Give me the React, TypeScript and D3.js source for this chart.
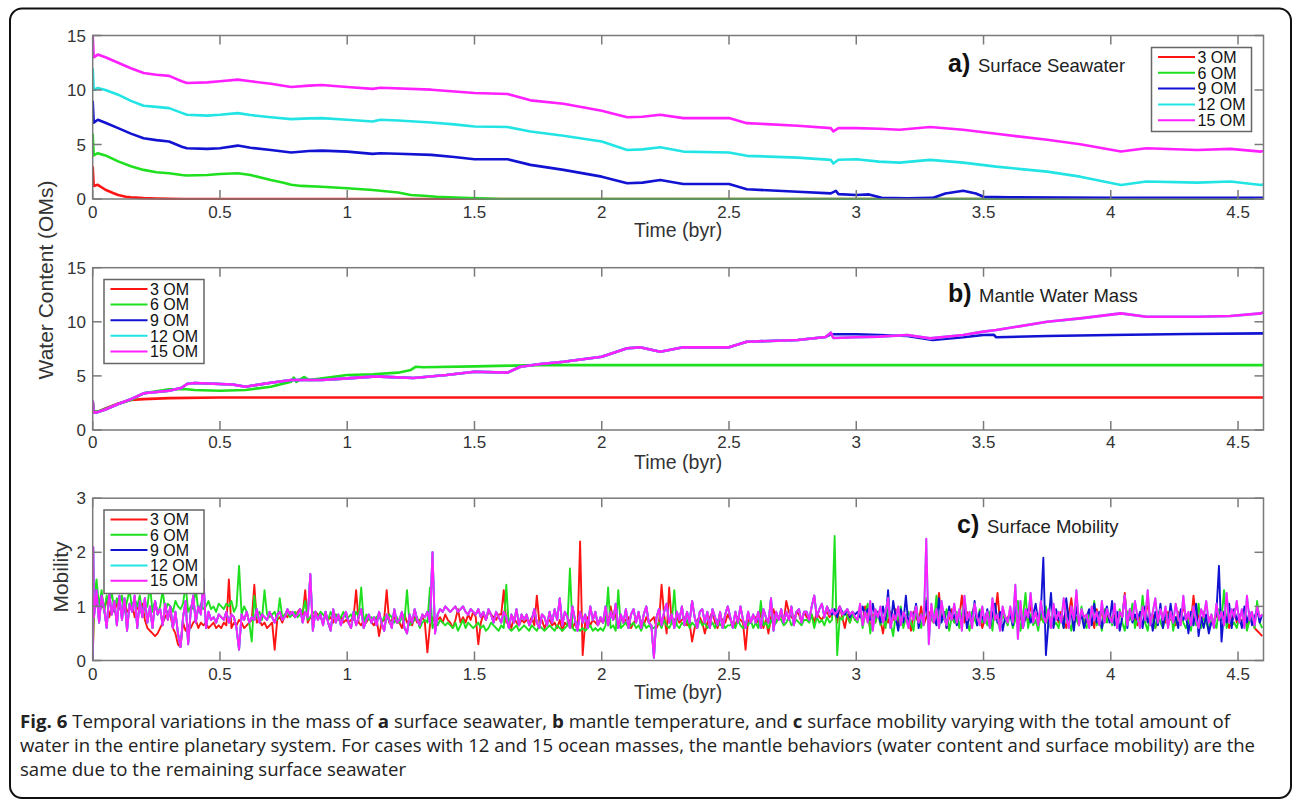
import React from 'react';
import * as d3 from 'd3';

type Pt = [number, number];

// ---- axis ticks and legend ----
const timeTicks = [0, 0.5, 1, 1.5, 2, 2.5, 3, 3.5, 4, 4.5];
const waterTicks = [0, 5, 10, 15];
const mobilityTicks = [0, 1, 2, 3];
const caseLabels = ['3 OM', '6 OM', '9 OM', '12 OM', '15 OM'];
const caseColors = ['#ff1414', '#1fe01f', '#1212d2', '#22e4e4', '#ff1fff'];

// ---- a) surface seawater [time (byr), OMs] ----
const seawater3: Pt[] = [[0, 3.0], [0.004, 1.2], [0.02, 1.3], [0.05, 0.85], [0.08, 0.55], [0.1, 0.37], [0.13, 0.2], [0.15, 0.15], [0.2, 0.08], [0.25, 0.05], [0.3, 0.02], [0.35, 0], [4.6, 0]];
const seawater6: Pt[] = [[0, 6], [0.004, 4.0], [0.02, 4.2], [0.05, 4.0], [0.1, 3.45], [0.15, 3.0], [0.2, 2.67], [0.25, 2.45], [0.3, 2.36], [0.35, 2.2], [0.37, 2.15], [0.45, 2.2], [0.5, 2.3], [0.57, 2.36], [0.62, 2.2], [0.7, 1.75], [0.75, 1.5], [0.78, 1.3], [0.82, 1.2], [0.9, 1.13], [1.0, 0.98], [1.1, 0.83], [1.2, 0.6], [1.25, 0.37], [1.3, 0.3], [1.35, 0.2], [1.45, 0.1], [1.55, 0.03], [1.6, 0], [4.6, 0]];
const seawater9: Pt[] = [[0, 9], [0.004, 7.0], [0.02, 7.27], [0.05, 7.0], [0.1, 6.5], [0.15, 6.0], [0.2, 5.58], [0.25, 5.4], [0.3, 5.27], [0.35, 4.8], [0.37, 4.66], [0.45, 4.6], [0.5, 4.66], [0.57, 4.9], [0.62, 4.7], [0.7, 4.5], [0.78, 4.26], [0.85, 4.4], [0.9, 4.44], [1.0, 4.35], [1.1, 4.14], [1.13, 4.2], [1.2, 4.15], [1.33, 4.05], [1.42, 3.85], [1.5, 3.65], [1.63, 3.65], [1.72, 3.13], [1.85, 2.67], [2.0, 2.05], [2.1, 1.44], [2.16, 1.5], [2.23, 1.75], [2.32, 1.38], [2.5, 1.38], [2.57, 0.89], [2.77, 0.67], [2.9, 0.52], [2.92, 0.75], [2.93, 0.45], [3.0, 0.37], [3.05, 0.42], [3.1, 0.12], [3.2, 0.06], [3.3, 0.1], [3.35, 0.5], [3.42, 0.76], [3.47, 0.5], [3.5, 0.2], [3.6, 0.15], [4.0, 0.12], [4.6, 0.1]];
const seawater12: Pt[] = [[0, 12], [0.004, 10.0], [0.02, 10.18], [0.05, 10.0], [0.1, 9.57], [0.15, 9.0], [0.2, 8.56], [0.25, 8.45], [0.3, 8.34], [0.35, 7.9], [0.37, 7.73], [0.45, 7.65], [0.5, 7.73], [0.57, 7.88], [0.62, 7.7], [0.7, 7.5], [0.78, 7.33], [0.85, 7.4], [0.9, 7.42], [1.0, 7.27], [1.1, 7.11], [1.13, 7.27], [1.2, 7.2], [1.33, 7.02], [1.42, 6.85], [1.5, 6.65], [1.63, 6.6], [1.72, 6.19], [1.85, 5.8], [2.0, 5.27], [2.1, 4.5], [2.16, 4.55], [2.23, 4.75], [2.32, 4.35], [2.5, 4.26], [2.57, 3.96], [2.77, 3.8], [2.9, 3.59], [2.91, 3.25], [2.93, 3.6], [3.0, 3.65], [3.09, 3.43], [3.17, 3.34], [3.29, 3.59], [3.42, 3.34], [3.55, 2.97], [3.75, 2.51], [3.88, 2.05], [4.04, 1.29], [4.14, 1.6], [4.34, 1.5], [4.47, 1.6], [4.59, 1.29], [4.6, 1.35]];
const seawater15: Pt[] = [[0, 15], [0.004, 13.0], [0.02, 13.25], [0.05, 13.0], [0.1, 12.5], [0.15, 12.0], [0.2, 11.56], [0.25, 11.4], [0.3, 11.3], [0.35, 10.8], [0.37, 10.64], [0.45, 10.7], [0.5, 10.8], [0.57, 10.95], [0.62, 10.8], [0.7, 10.58], [0.78, 10.27], [0.85, 10.4], [0.9, 10.46], [1.0, 10.27], [1.1, 10.1], [1.13, 10.2], [1.33, 10.03], [1.5, 9.72], [1.63, 9.63], [1.72, 9.05], [1.85, 8.74], [2.0, 8.1], [2.1, 7.5], [2.16, 7.55], [2.23, 7.73], [2.32, 7.42], [2.5, 7.42], [2.57, 6.96], [2.77, 6.72], [2.9, 6.5], [2.91, 6.2], [2.93, 6.5], [3.0, 6.5], [3.09, 6.44], [3.17, 6.35], [3.29, 6.6], [3.42, 6.35], [3.55, 5.98], [3.75, 5.43], [3.88, 5.03], [4.04, 4.35], [4.14, 4.66], [4.34, 4.5], [4.47, 4.6], [4.59, 4.35], [4.6, 4.4]];

// ---- b) mantle water mass [time (byr), OMs] ----
const mantle3: Pt[] = [[0, 2.7], [0.003, 1.7], [0.02, 1.7], [0.05, 2.0], [0.1, 2.46], [0.15, 2.77], [0.2, 2.85], [0.3, 2.95], [0.5, 3.0], [4.6, 3.0]];
const mantle6: Pt[] = [[0, 2.7], [0.003, 1.7], [0.02, 1.7], [0.05, 1.95], [0.1, 2.4], [0.15, 2.77], [0.2, 3.39], [0.3, 3.76], [0.37, 3.76], [0.4, 3.7], [0.5, 3.63], [0.6, 3.7], [0.7, 4.0], [0.78, 4.47], [0.79, 4.85], [0.8, 4.45], [0.83, 4.9], [0.85, 4.62], [1.0, 5.08], [1.1, 5.15], [1.2, 5.3], [1.25, 5.55], [1.27, 5.85], [1.3, 5.8], [1.5, 5.88], [1.65, 5.95], [1.75, 6.0], [4.6, 6.0]];
const mantle15: Pt[] = [[0, 2.7], [0.003, 1.6], [0.02, 1.65], [0.05, 1.9], [0.1, 2.4], [0.15, 2.85], [0.2, 3.39], [0.3, 3.63], [0.35, 3.9], [0.37, 4.25], [0.4, 4.35], [0.5, 4.25], [0.55, 4.2], [0.6, 4.0], [0.7, 4.37], [0.78, 4.62], [0.9, 4.62], [1.0, 4.77], [1.1, 4.93], [1.13, 4.93], [1.26, 4.8], [1.39, 5.08], [1.5, 5.39], [1.63, 5.3], [1.68, 5.85], [1.76, 6.1], [1.85, 6.31], [2.0, 6.77], [2.1, 7.55], [2.15, 7.64], [2.23, 7.24], [2.32, 7.64], [2.5, 7.64], [2.57, 8.16], [2.77, 8.32], [2.88, 8.6], [2.9, 9.0], [2.91, 8.5], [3.0, 8.57], [3.09, 8.63], [3.2, 8.78], [3.29, 8.47], [3.42, 8.78], [3.5, 9.09], [3.55, 9.24], [3.75, 10.0], [3.88, 10.32], [4.04, 10.78], [4.14, 10.47], [4.34, 10.47], [4.47, 10.54], [4.59, 10.78], [4.6, 10.9]];
// 12 OM follows the 15 OM mantle path; 9 OM shares it until it splits off near 2.9 byr
const mantle12: Pt[] = mantle15;
const mantle9Tail: Pt[] = [[2.9, 8.85], [3.0, 8.85], [3.09, 8.78], [3.2, 8.69], [3.3, 8.32], [3.42, 8.57], [3.5, 8.78], [3.54, 8.8], [3.55, 8.57], [3.75, 8.69], [4.0, 8.78], [4.3, 8.87], [4.6, 8.93]];
const mantle9: Pt[] = [...mantle15.filter(d => d[0] <= 2.88), ...mantle9Tail];

// ---- c) surface mobility, sampled every MOB_DT byr from MOB_T0 (one row = 0.1 byr) ----
const MOB_T0 = 0.005;
const MOB_DT = 0.01;
const mobility3 = [
  0.9, 1.1, 0.85, 1.05, 0.95, 1.15, 0.8, 1.0, 0.9, 1.05,
  1.0, 0.85, 1.1, 0.9, 0.95, 1.05, 0.8, 1.0, 0.9, 1.05,
  0.75, 0.6, 0.55, 0.5, 0.45, 0.5, 0.6, 0.7, 0.8, 0.9,
  0.85, 0.6, 0.5, 0.3, 0.25, 0.7, 0.55, 0.65, 0.6, 0.7,
  0.75, 0.6, 0.7, 0.65, 0.7, 0.6, 0.65, 0.7, 0.6, 0.65,
  0.6, 0.7, 0.65, 1.5, 0.6, 0.7, 0.65, 0.75, 0.7, 0.6,
  0.65, 0.7, 0.75, 1.4, 0.7, 0.75, 0.65, 0.7, 0.6, 0.65,
  0.7, 0.2, 0.75, 0.8, 0.7, 0.85, 0.8, 0.9, 0.85, 0.8,
  0.9, 0.95, 0.85, 1.3, 0.7, 0.8, 0.75, 0.9, 0.85, 0.8,
  0.7, 0.85, 0.75, 0.8, 0.7, 0.85, 0.75, 0.8, 0.7, 0.75,
  0.7, 0.75, 0.8, 1.3, 0.7, 0.65, 0.75, 0.7, 0.8, 0.7,
  0.65, 0.8, 0.45, 0.7, 0.75, 1.3, 0.7, 0.75, 0.8, 0.7,
  0.7, 0.6, 0.85, 0.7, 0.75, 0.65, 0.8, 0.7, 0.75, 0.8,
  0.7, 0.15, 0.65, 0.8, 0.7, 0.75, 0.8, 0.7, 0.85, 0.75,
  0.7, 0.6, 0.75, 0.95, 0.7, 0.8, 0.7, 0.85, 0.75, 0.9,
  0.8, 0.3, 0.7, 0.85, 0.75, 0.9, 0.85, 0.8, 0.75, 0.85,
  0.85, 1.3, 0.7, 0.75, 0.6, 0.8, 0.7, 0.65, 0.75, 0.7,
  0.75, 0.7, 0.8, 0.65, 1.2, 0.7, 0.75, 0.6, 0.7, 0.75,
  0.65, 0.7, 0.6, 0.75, 0.55, 0.7, 0.65, 0.75, 0.6, 0.7,
  0.55, 2.2, 0.1, 0.7, 0.8, 0.65, 0.75, 0.7, 0.65, 0.75,
  0.7, 0.8, 0.65, 1.0, 0.75, 0.85, 0.6, 0.8, 0.7, 0.75,
  0.8, 0.6, 0.7, 0.75, 0.85, 0.7, 0.65, 0.8, 0.7, 0.75,
  0.8, 0.6, 0.7, 1.4, 0.85, 0.5, 1.35, 0.7, 0.75, 0.8,
  0.7, 0.75, 0.8, 0.65, 0.7, 0.35, 0.6, 0.75, 0.8, 0.7,
  0.5, 0.7, 0.8, 0.9, 0.7, 0.6, 0.8, 0.75, 0.7, 0.85,
  0.75, 0.7, 0.65, 0.8, 0.75, 0.7, 0.2, 0.75, 0.7, 0.8,
  0.8, 0.7, 0.9, 0.6, 0.75, 0.5, 0.8, 0.95, 0.7, 0.8,
  0.85, 0.7, 1.1, 0.9, 0.8, 0.75, 0.9, 0.85, 0.7, 0.9,
  0.8, 0.75, 0.85, 0.7, 0.9, 0.8, 0.75, 0.85, 0.9, 0.8,
  0.85, 0.9, 0.7, 1.0, 0.8, 0.6, 0.85, 0.7, 0.9, 0.75,
  0.8, 0.9, 0.7, 1.0, 0.8, 0.6, 0.85, 0.7, 0.9, 0.75,
  0.5, 0.8, 0.7, 0.9, 0.75, 0.95, 0.6, 0.85, 0.7, 0.8,
  0.75, 0.55, 0.9, 0.8, 0.7, 1.0, 0.65, 0.8, 0.9, 0.75,
  0.7, 0.85, 1.25, 0.75, 0.9, 0.6, 0.8, 0.95, 0.7, 0.85,
  0.8, 1.2, 0.7, 0.9, 0.75, 0.8, 1.05, 0.7, 0.85, 0.6,
  0.75, 0.9, 0.7, 0.85, 0.8, 1.25, 0.7, 0.9, 0.75, 0.8,
  0.85, 0.7, 0.9, 0.75, 0.8, 0.65, 0.9, 0.7, 1.05, 0.75,
  0.7, 0.85, 0.75, 0.9, 0.7, 0.8, 0.6, 0.75, 0.85, 0.7,
  0.9, 0.75, 0.6, 0.85, 1.15, 0.7, 0.8, 0.65, 0.9, 0.75,
  0.7, 0.85, 0.8, 0.6, 0.95, 0.75, 0.9, 0.7, 0.8, 0.85,
  0.75, 0.9, 0.7, 0.85, 0.8, 1.25, 0.7, 0.9, 0.75, 0.8,
  0.65, 0.8, 0.9, 0.7, 1.1, 0.75, 0.85, 0.6, 0.8, 0.9,
  0.85, 0.7, 0.9, 0.75, 0.8, 0.65, 0.9, 0.7, 1.05, 0.75,
  0.8, 0.7, 1.2, 0.75, 0.85, 0.65, 0.9, 0.75, 0.8, 0.7,
  0.7, 0.85, 0.75, 0.9, 0.7, 0.8, 0.6, 0.75, 0.95, 0.7,
  0.8, 0.7, 0.9, 0.6, 0.75, 0.85, 0.6, 0.55, 0.5, 0.45,
];
const mobility6 = [
  1.1, 1.5, 1.0, 1.3, 0.9, 1.2, 1.05, 1.25, 0.95, 1.15,
  1.0, 1.2, 0.9, 1.1, 1.3, 0.95, 1.15, 1.0, 1.2, 0.9,
  0.95, 1.0, 1.4, 0.9, 1.1, 0.85, 1.0, 1.3, 0.9, 1.05,
  1.0, 0.9, 1.1, 1.0, 0.95, 1.05, 1.4, 0.9, 1.0, 0.95,
  1.35, 0.9, 1.05, 0.95, 1.0, 1.1, 0.95, 1.0, 0.9, 1.05,
  1.0, 0.95, 1.05, 1.0, 1.1, 0.9, 1.0, 1.75, 0.85, 1.0,
  0.9, 0.7, 0.35, 1.2, 0.8, 0.9, 0.75, 1.3, 0.85, 0.8,
  0.85, 0.9, 0.75, 1.15, 0.8, 0.85, 0.9, 0.8, 0.85, 0.9,
  0.8, 0.85, 0.9, 1.1, 0.75, 0.8, 0.9, 0.85, 0.8, 0.9,
  0.85, 0.8, 0.75, 0.9, 0.8, 0.85, 0.75, 0.8, 0.9, 0.8,
  0.8, 0.85, 0.75, 0.9, 0.8, 1.35, 0.7, 0.85, 0.75, 0.8,
  0.75, 0.8, 0.85, 0.7, 0.8, 0.75, 0.85, 0.8, 0.7, 0.8,
  0.7, 0.8, 0.75, 1.3, 0.65, 0.7, 0.75, 0.8, 0.6, 0.7,
  0.75, 0.7, 1.35, 0.6, 0.7, 0.65, 0.75, 0.7, 0.65, 0.7,
  0.65, 0.6, 0.7, 0.55, 0.65, 0.75, 0.6, 0.7, 0.65, 0.6,
  0.65, 0.7, 0.6, 0.65, 0.55, 0.6, 0.7, 0.65, 0.6, 0.55,
  0.65, 0.6, 1.4, 0.6, 0.55, 0.6, 0.65, 0.55, 0.6, 0.65,
  0.6, 0.55, 0.65, 0.6, 0.55, 0.65, 0.6, 0.55, 0.6, 0.65,
  0.6, 0.55, 0.65, 0.6, 0.55, 0.6, 0.65, 1.7, 0.6, 0.55,
  0.6, 0.55, 0.6, 0.55, 0.6, 0.65, 0.55, 0.6, 0.55, 0.6,
  0.55, 0.65, 1.35, 0.6, 0.65, 0.55, 1.3, 0.6, 0.65, 0.7,
  0.6, 0.65, 0.7, 0.6, 0.65, 0.55, 0.7, 0.6, 0.65, 0.6,
  0.6, 0.65, 0.7, 0.6, 0.75, 0.65, 0.6, 0.7, 1.3, 0.65,
  0.6, 0.7, 0.65, 0.75, 0.6, 0.7, 0.65, 0.6, 0.75, 0.65,
  0.7, 0.6, 0.65, 0.7, 0.6, 0.75, 0.65, 0.7, 0.6, 0.65,
  0.65, 0.7, 0.6, 0.75, 0.65, 0.6, 0.7, 0.65, 0.75, 0.6,
  0.7, 0.6, 1.1, 0.65, 0.7, 0.6, 0.75, 0.65, 0.7, 0.8,
  0.75, 0.65, 0.7, 0.8, 0.65, 0.7, 0.75, 0.7, 0.65, 0.75,
  0.75, 0.7, 0.85, 0.6, 0.8, 0.7, 0.75, 0.65, 0.8, 0.7,
  0.75, 2.3, 0.1, 0.8, 0.75, 0.9, 0.8, 0.7, 0.85, 0.75,
  0.7, 0.95, 0.6, 0.85, 1.05, 0.5, 0.8, 0.7, 0.9, 0.65,
  0.8, 0.6, 0.95, 0.7, 0.45, 0.85, 0.75, 1.0, 0.6, 0.8,
  0.9, 0.7, 0.55, 1.0, 0.75, 0.6, 0.9, 1.15, 0.65, 0.8,
  0.7, 1.2, 0.6, 0.85, 0.75, 0.95, 0.55, 0.8, 0.7, 0.9,
  0.6, 0.85, 1.1, 0.7, 0.55, 0.9, 0.75, 0.65, 0.95, 0.7,
  0.8, 0.65, 0.9, 0.55, 1.05, 0.7, 0.6, 0.85, 0.75, 0.65,
  0.9, 0.6, 0.75, 1.1, 0.55, 0.8, 1.25, 0.6, 0.85, 0.65,
  0.75, 0.55, 0.9, 0.7, 1.0, 0.6, 0.8, 0.65, 0.7, 0.6,
  0.85, 0.6, 1.05, 0.7, 0.55, 0.9, 0.75, 0.65, 1.0, 0.7,
  0.6, 0.9, 0.75, 1.1, 0.65, 0.8, 0.55, 0.95, 0.7, 0.85,
  0.65, 0.8, 0.6, 0.95, 0.7, 0.55, 0.9, 0.75, 1.05, 0.6,
  0.8, 0.65, 1.2, 0.7, 0.55, 0.85, 0.75, 0.6, 0.9, 0.7,
  0.6, 0.85, 0.7, 1.0, 0.55, 0.8, 0.65, 0.9, 0.7, 0.6,
  0.75, 0.55, 0.9, 0.65, 1.05, 0.6, 0.8, 0.7, 0.55, 0.85,
  0.7, 0.6, 0.95, 0.75, 1.3, 0.6, 0.8, 0.65, 0.7, 0.6,
  0.8, 0.65, 0.9, 0.55, 0.75, 0.85, 0.6, 1.1, 0.7, 0.6,
];
const mobility15 = [
  0.8, 1.3, 0.7, 1.2, 0.95, 0.6, 1.25, 0.85, 1.1, 0.65,
  1.2, 0.75, 1.15, 0.55, 1.05, 0.9, 1.2, 0.6, 1.1, 0.8,
  1.15, 0.7, 1.0, 0.6, 1.1, 0.85, 0.95, 0.65, 1.05, 0.75,
  1.0, 0.6, 0.9, 0.5, 0.25, 0.8, 1.1, 0.3, 0.9, 1.2,
  0.7, 1.0, 0.85, 1.5, 0.6, 0.9, 0.75, 0.8, 0.7, 0.85,
  0.8, 0.75, 0.9, 0.7, 0.85, 0.8, 0.6, 0.2, 0.85, 0.75,
  0.9, 0.7, 0.8, 0.75, 0.95, 0.7, 0.85, 0.8, 0.75, 0.9,
  0.8, 0.7, 0.85, 0.9, 0.75, 0.8, 0.95, 0.85, 0.9, 0.8,
  0.85, 0.95, 0.7, 0.9, 0.8, 1.6, 0.55, 0.9, 0.75, 0.85,
  0.65, 0.9, 0.7, 0.55, 0.95, 0.7, 0.85, 0.65, 0.8, 0.9,
  0.7, 0.6, 0.9, 0.65, 0.8, 0.95, 0.6, 0.75, 0.85, 0.7,
  0.8, 0.65, 0.9, 0.7, 0.55, 0.85, 0.75, 0.6, 0.95, 0.7,
  0.75, 0.9, 0.6, 0.5, 0.85, 0.7, 0.95, 0.75, 0.65, 0.85,
  0.8, 0.9, 0.7, 2.0, 0.5, 0.85, 0.95, 0.9, 1.0, 0.95,
  0.9, 0.95, 1.0, 0.9, 0.95, 1.0, 0.9, 0.85, 0.95, 0.9,
  0.85, 0.95, 0.8, 0.9, 0.75, 0.95, 0.85, 0.7, 0.9, 0.8,
  0.7, 0.9, 0.8, 0.6, 0.85, 0.7, 0.95, 0.65, 0.85, 0.75,
  0.85, 0.65, 0.75, 0.95, 0.7, 0.6, 0.85, 0.8, 0.65, 0.9,
  0.7, 0.95, 0.75, 1.15, 0.65, 0.9, 0.8, 0.6, 1.0, 0.75,
  0.55, 0.9, 0.7, 0.85, 0.6, 1.0, 0.75, 0.9, 0.65, 0.8,
  0.7, 1.0, 0.65, 0.9, 0.75, 1.05, 0.6, 0.85, 0.7, 0.95,
  0.6, 0.85, 0.95, 0.7, 0.9, 0.6, 0.85, 1.0, 0.7, 0.65,
  0.05, 0.8, 0.95, 0.65, 0.9, 1.05, 0.7, 0.85, 0.6, 0.9,
  0.75, 1.0, 0.65, 0.9, 0.7, 1.1, 0.8, 0.6, 0.9, 0.95,
  0.7, 0.9, 0.6, 0.95, 0.8, 0.65, 0.9, 0.6, 0.85, 1.0,
  0.8, 0.6, 0.9, 0.7, 1.0, 0.75, 0.6, 0.9, 0.7, 0.85,
  0.7, 0.9, 0.6, 0.95, 0.8, 0.7, 1.15, 0.55, 0.9, 0.75,
  0.95, 0.7, 0.9, 0.75, 1.0, 0.65, 0.9, 0.95, 0.7, 0.9,
  0.9, 0.75, 1.0, 1.2, 0.8, 0.95, 1.05, 0.8, 1.0, 0.85,
  0.95, 0.85, 0.9, 1.0, 0.85, 0.9, 0.95, 0.85, 0.9, 0.8,
  0.75, 1.05, 0.65, 0.9, 0.7, 1.1, 0.55, 0.95, 0.8, 1.0,
  0.7, 0.9, 1.15, 0.6, 0.85, 0.75, 1.0, 0.65, 0.9, 0.8,
  0.6, 0.9, 0.75, 1.0, 0.7, 0.85, 0.65, 2.25, 0.3, 1.05,
  0.7, 0.95, 0.6, 1.1, 0.8, 0.65, 0.9, 0.75, 1.05, 0.7,
  0.95, 0.55, 1.2, 0.75, 0.9, 0.6, 1.05, 0.8, 0.65, 1.0,
  0.7, 0.9, 0.6, 1.15, 0.75, 0.85, 0.55, 1.0, 0.8, 0.7,
  1.0, 0.7, 1.4, 0.4, 1.1, 0.6, 0.95, 0.8, 1.25, 0.7,
  0.9, 0.65, 1.1, 0.8, 0.7, 0.95, 0.6, 1.05, 0.75, 0.9,
  0.7, 1.15, 0.8, 0.6, 1.0, 0.75, 1.3, 0.65, 0.95, 0.8,
  0.85, 0.6, 1.0, 0.75, 0.9, 0.65, 1.1, 0.7, 0.95, 0.8,
  0.7, 1.05, 0.6, 0.9, 0.8, 1.2, 0.65, 0.95, 0.75, 1.1,
  0.8, 0.6, 1.0, 0.75, 1.3, 0.65, 0.9, 1.15, 0.7, 0.95,
  0.75, 1.0, 0.6, 0.9, 0.7, 1.05, 0.8, 0.65, 1.2, 0.75,
  0.9, 0.65, 1.0, 0.75, 0.6, 0.95, 0.8, 1.1, 0.7, 0.85,
  0.6, 1.05, 0.75, 0.9, 0.65, 1.25, 0.7, 0.95, 0.8, 1.1,
  0.7, 0.95, 0.6, 1.2, 0.75, 0.9, 0.65, 1.0, 0.8, 0.85,
];
// 9 OM leaves the 15 OM track at sample 289 (t = 2.895 byr)
const MOB9_SPLIT = 289;
const mobility9Tail = [
  0.9,
  0.85, 0.95, 0.8, 1.0, 0.9, 0.85, 0.95, 0.8, 0.9, 0.85,
  0.9, 0.8, 1.0, 0.85, 0.95, 0.75, 1.05, 0.8, 0.9, 0.7,
  1.0, 0.75, 1.3, 0.6, 1.1, 0.8, 0.55, 0.95, 0.7, 1.2,
  0.65, 0.9, 0.8, 1.05, 0.6, 0.85, 0.75, 1.1, 0.55, 0.9,
  0.8, 0.65, 1.15, 0.7, 0.9, 0.6, 1.0, 0.75, 0.85, 0.65,
  0.9, 0.7, 1.0, 0.6, 0.85, 0.75, 1.1, 0.65, 0.9, 0.8,
  0.7, 0.95, 0.6, 0.85, 1.05, 0.7, 0.9, 0.55, 0.8, 0.75,
  0.85, 0.65, 1.0, 0.75, 0.9, 0.6, 0.8, 0.95, 0.7, 0.85,
  1.05, 0.7, 0.9, 1.9, 0.1, 0.7, 1.25, 0.6, 0.95, 0.75,
  0.85, 0.6, 1.15, 0.75, 0.9, 0.55, 1.0, 0.7, 0.85, 0.6,
  0.8, 0.95, 0.65, 1.05, 0.7, 0.9, 0.6, 0.85, 1.0, 0.7,
  1.1, 0.65, 0.9, 0.55, 0.8, 1.2, 0.6, 0.95, 0.7, 0.85,
  0.75, 0.9, 0.6, 1.0, 0.7, 0.85, 0.55, 0.9, 0.65, 1.05,
  0.6, 0.9, 0.65, 1.05, 0.7, 0.8, 0.6, 0.95, 0.75, 0.85,
  0.5, 0.9, 0.65, 1.05, 0.45, 0.8, 0.6, 0.85, 0.5, 0.7,
  0.65, 0.9, 1.75, 0.35, 0.9, 0.7, 1.05, 0.6, 0.95, 0.75,
  0.85, 0.6, 1.0, 0.7, 0.9, 0.65, 0.8, 0.95, 0.7, 0.85,
];
const mobility9 = [...mobility15.slice(0, MOB9_SPLIT), ...mobility9Tail];
const mobility12 = mobility15;

const sampled = (vals: number[], start: Pt[]): Pt[] =>
  [...start, ...vals.map((v, i) => [MOB_T0 + i * MOB_DT, v] as Pt)];

const seawaterSeries = [seawater3, seawater6, seawater9, seawater12, seawater15];
const mantleSeries = [mantle3, mantle6, mantle9, mantle12, mantle15];
const mobilitySeries = [
  sampled(mobility3, [[0, 0]]),
  sampled(mobility6, [[0, 0]]),
  sampled(mobility9, [[0, 0], [0.002, 2.1]]),
  sampled(mobility12, [[0, 0], [0.002, 2.1]]),
  sampled(mobility15, [[0, 0], [0.002, 2.1]]),
];

const FONT = '"Liberation Sans", Arial, Helvetica, sans-serif';
const AXIS_COLOR = '#7a7a7a';
const TEXT_COLOR = '#333';

const x = d3.scaleLinear().domain([0, 4.6]).range([92.7, 1263.5]);

interface PanelProps {
  id: string;
  top: number;
  bottom: number;
  yMax: number;
  yTicks: number[];
  series: Pt[][];
  tag: string;
  tagX: number;
  title: string;
  titleX: number;
  titleY: number;
  legendX: number;
  legendY: number;
  legendH: number;
  rowStep: number;
  tickLabelY: number;
  xLabelY: number;
  lineWidth: number;
}

function Panel(p: PanelProps) {
  const y = d3.scaleLinear().domain([0, p.yMax]).range([p.bottom, p.top]);
  const [x0, x1] = x.range();
  const line = d3.line<Pt>().x(d => x(d[0])).y(d => y(d[1]));
  const tickLen = 9;
  const legendW = 100;
  return (
    <g>
      <defs>
        <clipPath id={`clip-${p.id}`}>
          <rect x={x0} y={p.top - 1} width={x1 - x0} height={p.bottom - p.top + 2} />
        </clipPath>
      </defs>
      <g clipPath={`url(#clip-${p.id})`}>
        {p.series.map((s, i) => (
          <path key={i} d={line(s) || ''} fill="none" stroke={caseColors[i]}
            strokeWidth={p.lineWidth} strokeLinejoin="round" />
        ))}
      </g>
      {/* box and inward ticks */}
      <rect x={x0} y={p.top} width={x1 - x0} height={p.bottom - p.top} fill="none"
        stroke={AXIS_COLOR} strokeWidth={1.5} />
      {timeTicks.map(t => (
        <g key={`xt${t}`}>
          <line x1={x(t)} x2={x(t)} y1={p.bottom} y2={p.bottom - tickLen} stroke={AXIS_COLOR} strokeWidth={1.5} />
          <line x1={x(t)} x2={x(t)} y1={p.top} y2={p.top + tickLen} stroke={AXIS_COLOR} strokeWidth={1.5} />
          <text x={x(t)} y={p.tickLabelY} textAnchor="middle" fontSize={17} fill={TEXT_COLOR} fontFamily={FONT}>{String(t)}</text>
        </g>
      ))}
      {p.yTicks.map(v => (
        <g key={`yt${v}`}>
          <line x1={x0} x2={x0 + tickLen} y1={y(v)} y2={y(v)} stroke={AXIS_COLOR} strokeWidth={1.5} />
          <line x1={x1} x2={x1 - tickLen} y1={y(v)} y2={y(v)} stroke={AXIS_COLOR} strokeWidth={1.5} />
          <text x={86} y={y(v)} dy="0.36em" textAnchor="end" fontSize={17} fill={TEXT_COLOR} fontFamily={FONT}>{String(v)}</text>
        </g>
      ))}
      <text x={(x0 + x1) / 2} y={p.xLabelY} textAnchor="middle" fontSize={19.5} fill={TEXT_COLOR} fontFamily={FONT}>Time (byr)</text>
      {/* panel title */}
      <text x={p.tagX} y={p.titleY} fontSize={25} fontWeight="bold" fill="#111" fontFamily={FONT}>{p.tag}</text>
      <text x={p.titleX} y={p.titleY} fontSize={18.5} fill="#222" fontFamily={FONT}>{p.title}</text>
      {/* legend */}
      <rect x={p.legendX} y={p.legendY} width={legendW} height={p.legendH} fill="#fff" stroke="#666" strokeWidth={1.5} />
      {caseLabels.map((lab, i) => {
        const ry = p.legendY + 9.5 + i * p.rowStep;
        return (
          <g key={lab}>
            <line x1={p.legendX + 6.5} x2={p.legendX + 43.5} y1={ry} y2={ry} stroke={caseColors[i]} strokeWidth={2} />
            <text x={p.legendX + 46} y={ry} dy="0.36em" fontSize={16} fill="#111" fontFamily={FONT}>{lab}</text>
          </g>
        );
      })}
    </g>
  );
}

export default function App() {
  return (
    <svg width={1296} height={805} viewBox="0 0 1296 805"
      style={{ position: 'absolute', left: 0, top: 0, background: '#fff' }}>
      <rect x={0} y={0} width={1296} height={805} fill="#fff" />
      <rect x={10} y={8.5} width={1281} height={789.5} rx={12} fill="none" stroke="#111" strokeWidth={2} />

      <Panel id="a" top={35.5} bottom={199} yMax={15} yTicks={waterTicks} series={seawaterSeries}
        tag="a)" tagX={948} title="Surface Seawater" titleX={978} titleY={72}
        legendX={1151.5} legendY={47.5} legendH={84} rowStep={15.8}
        tickLabelY={218} xLabelY={237} lineWidth={2.6} />
      <Panel id="b" top={267.7} bottom={430} yMax={15} yTicks={waterTicks} series={mantleSeries}
        tag="b)" tagX={948} title="Mantle Water Mass" titleX={979} titleY={302}
        legendX={104} legendY={279.5} legendH={84} rowStep={15.6}
        tickLabelY={448} xLabelY={469} lineWidth={2.6} />
      <Panel id="c" top={498.2} bottom={660.5} yMax={3} yTicks={mobilityTicks} series={mobilitySeries}
        tag="c)" tagX={957} title="Surface Mobility" titleX={987} titleY={533}
        legendX={104} legendY={510} legendH={83.5} rowStep={15.3}
        tickLabelY={680} xLabelY={699} lineWidth={1.9} />

      <text transform="translate(53,280) rotate(-90)" textAnchor="middle" fontSize={21} fill={TEXT_COLOR} fontFamily={FONT}>Water Content (OMs)</text>
      <text transform="translate(68,577) rotate(-90)" textAnchor="middle" fontSize={21} fill={TEXT_COLOR} fontFamily={FONT}>Mobility</text>

      <g fontFamily='"Open Sans", "Noto Sans", sans-serif' fontSize={18} fill="#222">
        <text x={20} y={728} textLength={1210} lengthAdjust="spacingAndGlyphs">
          <tspan fontWeight="bold">Fig. 6</tspan> Temporal variations in the mass of <tspan fontWeight="bold">a</tspan> surface seawater, <tspan fontWeight="bold">b</tspan> mantle temperature, and <tspan fontWeight="bold">c</tspan> surface mobility varying with the total amount of
        </text>
        <text x={20} y={752} textLength={1235} lengthAdjust="spacingAndGlyphs">
          water in the entire planetary system. For cases with 12 and 15 ocean masses, the mantle behaviors (water content and surface mobility) are the
        </text>
        <text x={20} y={776} textLength={386} lengthAdjust="spacingAndGlyphs">same due to the remaining surface seawater</text>
      </g>
    </svg>
  );
}
